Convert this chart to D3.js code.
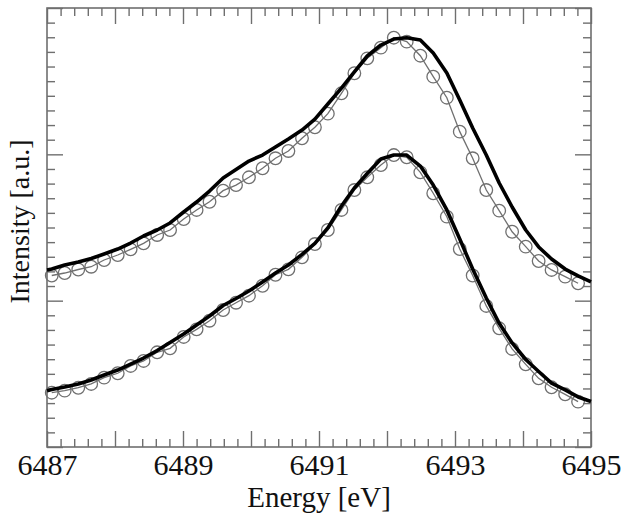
<!DOCTYPE html>
<html>
<head>
<meta charset="utf-8">
<script src="https://cdn.jsdelivr.net/npm/d3@7/dist/d3.min.js"></script>
<style>
  html, body { margin: 0; padding: 0; background: #fff; }
  svg { display: block; }
  text { font-family: "Liberation Serif", "Times New Roman", serif; fill: #111; }
</style>
</head>
<body>
<svg id="chart" width="626" height="521"></svg>
<script>
// ---- data ----
const expEnergy = [6487.07, 6487.26, 6487.46, 6487.65, 6487.84, 6488.04, 6488.23, 6488.42, 6488.62, 6488.81,
  6489.01, 6489.20, 6489.39, 6489.59, 6489.78, 6489.97, 6490.17, 6490.36, 6490.55, 6490.75,
  6490.94, 6491.13, 6491.33, 6491.52, 6491.71, 6491.91, 6492.10, 6492.29, 6492.49, 6492.68,
  6492.88, 6493.07, 6493.26, 6493.46, 6493.65, 6493.84, 6494.04, 6494.23, 6494.42, 6494.62, 6494.81];

const fitEnergy = [6487.00, 6487.07, 6487.26, 6487.46, 6487.65, 6487.84, 6488.04, 6488.23, 6488.42, 6488.62, 6488.81,
  6489.01, 6489.20, 6489.39, 6489.59, 6489.78, 6489.97, 6490.17, 6490.36, 6490.55, 6490.75,
  6490.94, 6491.13, 6491.33, 6491.52, 6491.71, 6491.91, 6492.10, 6492.29, 6492.49, 6492.68,
  6492.88, 6493.07, 6493.26, 6493.46, 6493.65, 6493.84, 6494.04, 6494.23, 6494.42, 6494.62, 6494.81, 6495.00];

const topExp = [1.172, 1.189, 1.213, 1.232, 1.278, 1.312, 1.351, 1.392, 1.449, 1.483,
  1.558, 1.620, 1.676, 1.752, 1.790, 1.843, 1.905, 1.973, 2.023, 2.110,
  2.185, 2.278, 2.417, 2.554, 2.656, 2.729, 2.797, 2.770, 2.674, 2.531,
  2.387, 2.155, 1.973, 1.756, 1.615, 1.471, 1.369, 1.271, 1.210, 1.164, 1.119];

const topFit = [1.210, 1.216, 1.244, 1.264, 1.288, 1.319, 1.353, 1.394, 1.442, 1.483, 1.531,
  1.606, 1.674, 1.749, 1.838, 1.896, 1.954, 1.995, 2.050, 2.105, 2.166,
  2.241, 2.344, 2.453, 2.563, 2.672, 2.747, 2.788, 2.797, 2.781, 2.692,
  2.556, 2.371, 2.180, 1.995, 1.804, 1.640, 1.483, 1.367, 1.285, 1.216, 1.169, 1.128];

const bottomExp = [0.371, 0.385, 0.405, 0.431, 0.474, 0.504, 0.554, 0.588, 0.647, 0.674,
  0.752, 0.804, 0.863, 0.936, 0.986, 1.034, 1.102, 1.177, 1.214, 1.296,
  1.387, 1.483, 1.620, 1.756, 1.843, 1.927, 1.995, 1.980, 1.877, 1.734,
  1.574, 1.353, 1.172, 0.964, 0.811, 0.670, 0.565, 0.469, 0.408, 0.360, 0.310];

const bottomFit = [0.385, 0.393, 0.410, 0.431, 0.458, 0.492, 0.526, 0.567, 0.608, 0.659, 0.714,
  0.772, 0.834, 0.895, 0.967, 1.015, 1.066, 1.128, 1.189, 1.244, 1.316,
  1.391, 1.497, 1.647, 1.770, 1.869, 1.968, 1.995, 1.995, 1.920, 1.790,
  1.620, 1.421, 1.216, 1.018, 0.845, 0.711, 0.598, 0.516, 0.437, 0.390, 0.342, 0.311];

const xMajorTicks = [6487, 6488, 6489, 6490, 6491, 6492, 6493, 6494, 6495];
const xLabels = [6487, 6489, 6491, 6493, 6495];
const yMajorTicks = [0, 1, 2, 3];
const xTitle = "Energy [eV]";
const yTitle = "Intensity [a.u.]";

// ---- layout ----
const W = 626, H = 521;
const m = { left: 47, right: 35, top: 8, bottom: 74 };
const svg = d3.select("#chart");

const x = d3.scaleLinear().domain([6487, 6495]).range([m.left, W - m.right]);
const y = d3.scaleLinear().domain([0, 3]).range([H - m.bottom, m.top]);

const frameColor = "#6f6f6f";
const xMinor = d3.range(6487, 6495.001, 0.2).filter(v => Math.abs(v - Math.round(v)) > 1e-6);
const yMinor = d3.range(0, 3.001, 0.1).filter(v => Math.abs(v - Math.round(v)) > 1e-6);

function styleAxis(g) {
  g.select(".domain").remove();
  g.selectAll(".tick line").attr("stroke", frameColor).attr("stroke-width", 1.4);
}

// bottom axis (major with labels)
svg.append("g").attr("transform", `translate(0,${y(0)})`)
  .call(d3.axisBottom(x).tickValues(xMajorTicks).tickSize(-16).tickPadding(7)
    .tickFormat(d => xLabels.includes(d) ? String(d) : ""))
  .call(styleAxis)
  .call(g => g.selectAll("text").attr("font-size", 30).attr("fill", "#111")
    .style("font-family", '"Liberation Serif", "Times New Roman", serif'));
svg.append("g").attr("transform", `translate(0,${y(0)})`)
  .call(d3.axisBottom(x).tickValues(xMinor).tickSize(-8).tickFormat(""))
  .call(styleAxis);
// top axis
svg.append("g").attr("transform", `translate(0,${y(3)})`)
  .call(d3.axisTop(x).tickValues(xMajorTicks).tickSize(-16).tickFormat(""))
  .call(styleAxis);
svg.append("g").attr("transform", `translate(0,${y(3)})`)
  .call(d3.axisTop(x).tickValues(xMinor).tickSize(-8).tickFormat(""))
  .call(styleAxis);
// left axis
svg.append("g").attr("transform", `translate(${x(6487)},0)`)
  .call(d3.axisLeft(y).tickValues(yMajorTicks).tickSize(-16).tickFormat(""))
  .call(styleAxis);
svg.append("g").attr("transform", `translate(${x(6487)},0)`)
  .call(d3.axisLeft(y).tickValues(yMinor).tickSize(-8).tickFormat(""))
  .call(styleAxis);
// right axis
svg.append("g").attr("transform", `translate(${x(6495)},0)`)
  .call(d3.axisRight(y).tickValues(yMajorTicks).tickSize(-16).tickFormat(""))
  .call(styleAxis);
svg.append("g").attr("transform", `translate(${x(6495)},0)`)
  .call(d3.axisRight(y).tickValues(yMinor).tickSize(-8).tickFormat(""))
  .call(styleAxis);

// frame
svg.append("rect")
  .attr("x", x(6487)).attr("y", y(3))
  .attr("width", x(6495) - x(6487)).attr("height", y(0) - y(3))
  .attr("fill", "none").attr("stroke", frameColor).attr("stroke-width", 1.6);

// ---- series ----
const line = d3.line().x(d => x(d[0])).y(d => y(d[1]));

function drawExp(vals) {
  const pts = expEnergy.map((e, i) => [e, vals[i]]);
  svg.append("path").datum(pts).attr("d", line)
    .attr("fill", "none").attr("stroke", "#707070").attr("stroke-width", 1.3);
  svg.append("g").selectAll("circle").data(pts).join("circle")
    .attr("cx", d => x(d[0])).attr("cy", d => y(d[1])).attr("r", 6.3)
    .attr("fill", "none").attr("stroke", "#707070").attr("stroke-width", 1.3);
}
function drawFit(vals) {
  const pts = fitEnergy.map((e, i) => [e, vals[i]]);
  svg.append("path").datum(pts).attr("d", line)
    .attr("fill", "none").attr("stroke", "#000").attr("stroke-width", 3.6)
    .attr("stroke-linejoin", "round").attr("stroke-linecap", "butt");
}
drawExp(topExp);
drawExp(bottomExp);
drawFit(topFit);
drawFit(bottomFit);

// ---- titles ----
svg.append("text")
  .attr("x", (x(6487) + x(6495)) / 2).attr("y", 507)
  .attr("text-anchor", "middle").attr("font-size", 29)
  .text(xTitle);
svg.append("text")
  .attr("transform", `translate(29,${(y(0) + y(3)) / 2 - 6}) rotate(-90)`)
  .attr("text-anchor", "middle").attr("font-size", 28)
  .text(yTitle);
</script>
</body>
</html>
